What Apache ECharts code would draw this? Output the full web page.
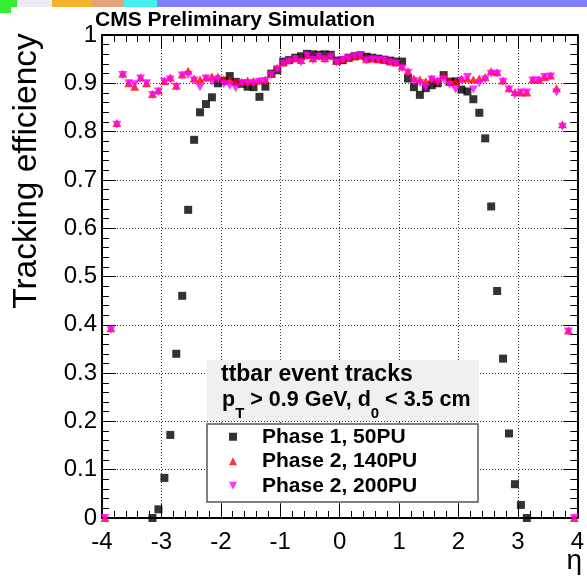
<!DOCTYPE html>
<html>
<head>
<meta charset="utf-8">
<script src="https://cdn.jsdelivr.net/npm/echarts@6/dist/echarts.min.js"></script>
<style>
html,body{margin:0;padding:0;background:#fff;}
#chart{width:587px;height:579px;}
</style>
</head>
<body>
<div id="chart"></div>
<script>
// ---- data ----
var etaPhase2 = [-3.95,-3.85,-3.75,-3.65,-3.55,-3.45,-3.35,-3.25,-3.15,-3.05,
  -2.95,-2.85,-2.75,-2.65,-2.55,-2.45,-2.35,-2.25,-2.15,-2.05,
  -1.95,-1.85,-1.75,-1.65,-1.55,-1.45,-1.35,-1.25,-1.15,-1.05,
  -0.95,-0.85,-0.75,-0.65,-0.55,-0.45,-0.35,-0.25,-0.15,-0.05,
  0.05,0.15,0.25,0.35,0.45,0.55,0.65,0.75,0.85,0.95,
  1.05,1.15,1.25,1.35,1.45,1.55,1.65,1.75,1.85,1.95,
  2.05,2.15,2.25,2.35,2.45,2.55,2.65,2.75,2.85,2.95,
  3.05,3.15,3.25,3.35,3.45,3.55,3.65,3.75,3.85,3.95];
var effPhase2PU140 = [0,0.393,0.818,0.92,0.90,0.893,0.912,0.90,0.878,0.885,
  0.905,0.912,0.895,0.918,0.926,0.91,0.908,0.912,0.914,0.914,
  0.908,0.908,0.903,0.903,0.906,0.905,0.906,0.908,0.92,0.932,
  0.943,0.948,0.952,0.948,0.958,0.952,0.957,0.952,0.957,0.946,
  0.95,0.953,0.956,0.958,0.95,0.952,0.95,0.949,0.945,0.943,
  0.935,0.925,0.91,0.908,0.904,0.91,0.906,0.917,0.906,0.903,
  0.91,0.91,0.908,0.91,0.913,0.925,0.923,0.906,0.89,0.882,
  0.881,0.881,0.908,0.908,0.913,0.916,0.89,0.815,0.388,0];
var effPhase2PU200 = [0,0.39,0.814,0.917,0.90,0.898,0.91,0.90,0.876,0.883,
  0.903,0.908,0.893,0.916,0.917,0.906,0.892,0.91,0.903,0.908,
  0.898,0.895,0.89,0.90,0.90,0.90,0.903,0.905,0.917,0.929,
  0.941,0.945,0.95,0.943,0.957,0.948,0.955,0.95,0.955,0.943,
  0.948,0.952,0.955,0.957,0.947,0.95,0.948,0.947,0.943,0.941,
  0.931,0.922,0.905,0.90,0.892,0.908,0.903,0.908,0.897,0.887,
  0.906,0.913,0.887,0.90,0.908,0.92,0.92,0.903,0.887,0.876,
  0.881,0.881,0.906,0.906,0.913,0.914,0.881,0.81,0.386,0];
var etaPhase1 = [-3.15,-3.05,-2.95,-2.85,-2.75,-2.65,-2.55,-2.45,-2.35,-2.25,
  -2.15,-2.05,-1.95,-1.85,-1.75,-1.65,-1.55,-1.45,-1.35,-1.25,
  -1.15,-1.05,-0.95,-0.85,-0.75,-0.65,-0.55,-0.45,-0.35,-0.25,
  -0.15,-0.05,0.05,0.15,0.25,0.35,0.45,0.55,0.65,0.75,
  0.85,0.95,1.05,1.15,1.25,1.35,1.45,1.55,1.65,1.75,
  1.85,1.95,2.05,2.15,2.25,2.35,2.45,2.55,2.65,2.75,
  2.85,2.95,3.05,3.15];
var effPhase1PU50 = [0,0.018,0.083,0.172,0.34,0.46,0.638,0.783,0.84,0.857,
  0.871,0.90,0.905,0.915,0.903,0.899,0.893,0.892,0.872,0.893,
  0.92,0.927,0.945,0.948,0.953,0.956,0.961,0.96,0.959,0.96,
  0.959,0.947,0.948,0.953,0.956,0.958,0.955,0.953,0.951,0.949,
  0.947,0.945,0.945,0.91,0.892,0.876,0.89,0.896,0.90,0.917,
  0.903,0.904,0.887,0.883,0.867,0.839,0.786,0.645,0.47,0.33,
  0.175,0.07,0.027,0];
var seriesNames = ['Phase 1, 50PU','Phase 2, 140PU','Phase 2, 200PU'];
var xTickLabels = ['-4','-3','-2','-1','0','1','2','3','4'];
var yTickLabels = ['0','0.1','0.2','0.3','0.4','0.5','0.6','0.7','0.8','0.9','1'];

function zip(xs, ys){ return xs.map(function(x,i){ return [x, ys[i]]; }); }

var FF = 'Liberation Sans, Arial, Helvetica, sans-serif';
var chart = echarts.init(document.getElementById('chart'), null, {renderer:'canvas'});

function axisCommon(extra){
  var a = {
    type:'value',
    axisLine:{show:true, onZero:false, lineStyle:{color:'#000', width:2}},
    axisTick:{show:true, inside:true, length:14, lineStyle:{color:'#000', width:1}},
    minorTick:{show:true, splitNumber:5, length:7, lineStyle:{color:'#000', width:1}},
    splitLine:{show:false}
  };
  for (var k in extra) a[k] = extra[k];
  return a;
}

var option = {
  animation:false,
  backgroundColor:'#fff',
  grid:{left:102, right:5, top:35, bottom:61, containLabel:false},
  xAxis:[
    axisCommon({min:-4, max:4, interval:1, position:'bottom',
      axisLabel:{color:'#000', fontSize:24, fontFamily:FF, margin:12,
        formatter:function(v){ var i = Math.round(v+4); return xTickLabels[i]; }},
      splitLine:{show:true, lineStyle:{color:'#333', type:[1,2], width:1}}}),
    axisCommon({min:-4, max:4, interval:1, position:'top', axisLabel:{show:false}})
  ],
  yAxis:[
    axisCommon({min:0, max:1, interval:0.1, position:'left',
      axisLabel:{color:'#000', fontSize:24, fontFamily:FF, margin:5,
        formatter:function(v){ var i = Math.round(v*10); return yTickLabels[i]; }},
      splitLine:{show:true, lineStyle:{color:'#333', type:[1,2], width:1}}}),
    axisCommon({min:0, max:1, interval:0.1, position:'right', axisLabel:{show:false}})
  ],
  legend:{
    orient:'vertical', left:207, top:424, padding:[2,10,2,22],
    itemWidth:8, itemHeight:8, itemGap:3, selectedMode:false,
    textStyle:{fontFamily:FF, fontWeight:'bold', fontSize:21, color:'#000', lineHeight:21.5, padding:[0,0,0,20]},
    data:[
      {name:seriesNames[0], icon:'rect'},
      {name:seriesNames[1], icon:'triangle'},
      {name:seriesNames[2], icon:'path://M0,0L10,0L5,10Z'}
    ]
  },
  graphic:[
    // top colour strip
    {type:'rect', shape:{x:0,y:0,width:17,height:7}, style:{fill:'#33ee33'}, z:10},
    {type:'rect', shape:{x:0,y:7,width:11,height:6}, style:{fill:'#33ee33'}, z:10},
    {type:'rect', shape:{x:17,y:0,width:35,height:7}, style:{fill:'#ececf8'}, z:10},
    {type:'rect', shape:{x:52,y:0,width:40,height:7}, style:{fill:'#f5b22e'}, z:10},
    {type:'rect', shape:{x:92,y:0,width:32,height:7}, style:{fill:'#e3a27a'}, z:10},
    {type:'rect', shape:{x:124,y:0,width:33,height:7}, style:{fill:'#44eeee'}, z:10},
    {type:'rect', shape:{x:157,y:0,width:430,height:7}, style:{fill:'#8080ff'}, z:10},
    // title
    {type:'text', x:95, y:20, z:10, style:{text:'CMS Preliminary Simulation', font:'bold 21px '+FF, fill:'#000', textAlign:'left', textVerticalAlign:'middle'}},
    // y axis title
    {type:'text', x:27, y:171, rotation:Math.PI/2, z:10, style:{text:'Tracking efficiency', font:'33.5px '+FF, fill:'#000', textAlign:'center', textVerticalAlign:'middle'}},
    // x axis title
    {type:'text', x:582, y:561, z:10, style:{text:'η', font:'28px '+FF, fill:'#000', textAlign:'right', textVerticalAlign:'middle'}},
    // info box
    {type:'rect', shape:{x:207,y:360,width:272,height:61}, style:{fill:'#f0f0f0'}, z:3},
    {type:'text', x:221, y:375, z:5, style:{text:'ttbar event tracks', font:'bold 23px '+FF, fill:'#000', textAlign:'left', textVerticalAlign:'middle'}},
    {type:'text', x:222, y:379, z:5, style:{
      text:'{m|p}{s|T}{m| > 0.9 GeV, d}{s|0}{m| < 3.5 cm}',
      textAlign:'left', textVerticalAlign:'top', fill:'#000',
      rich:{
        m:{fontFamily:FF, fontWeight:'bold', fontSize:21.5, lineHeight:42, verticalAlign:'middle', fill:'#000', color:'#000'},
        s:{fontFamily:FF, fontWeight:'bold', fontSize:15, lineHeight:15, verticalAlign:'bottom', fill:'#000', color:'#000'}
      }}},
    // legend frame
    {type:'rect', shape:{x:207,y:424,width:271,height:78}, style:{fill:'#fff', stroke:'#555', lineWidth:1.5}, z:3}
  ],
  series:[
    {name:seriesNames[0], type:'scatter', data:zip(etaPhase1, effPhase1PU50), symbol:'rect', symbolSize:8,
      itemStyle:{color:'#000'}, z:2},
    {name:seriesNames[1], type:'scatter', data:zip(etaPhase2, effPhase2PU140), symbol:'triangle', symbolSize:[9,8],
      itemStyle:{color:'#ff0000'}, z:3},
    {name:seriesNames[2], type:'scatter', data:zip(etaPhase2, effPhase2PU200), symbol:'triangle', symbolRotate:180, symbolSize:[9,8],
      itemStyle:{color:'#ff00ff'}, z:4}
  ]
};
chart.setOption(option);
</script>
</body>
</html>
